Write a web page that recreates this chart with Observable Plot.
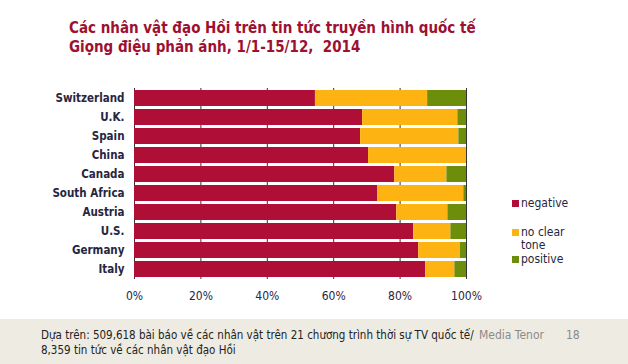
<!DOCTYPE html>
<html><head><meta charset="utf-8">
<script src="https://cdn.jsdelivr.net/npm/d3@7"></script>
<script src="https://cdn.jsdelivr.net/npm/@observablehq/plot@0.6"></script>
<style>
body{margin:0;background:#fff;}
#wrap{position:relative;width:628px;height:364px;overflow:hidden;background:#fff;}
#title{position:absolute;left:69px;top:19px;font-family:"DejaVu Sans Condensed","DejaVu Sans",sans-serif;font-weight:bold;font-size:15px;line-height:19px;color:#9E1030;white-space:nowrap;}
#chart{position:absolute;left:0;top:0;}
#legend{position:absolute;left:512px;top:197px;font-family:"DejaVu Sans Condensed","DejaVu Sans",sans-serif;font-size:12px;color:#26263F;}
.li{position:absolute;left:0;white-space:nowrap;line-height:13px;}
.sw{position:absolute;left:0;width:7px;height:7px;}
.lt{position:absolute;left:9px;}
#footer{position:absolute;left:0;top:319px;width:628px;height:45px;background:#EEECE2;}
#ftext{position:absolute;left:41px;top:9px;font-family:"DejaVu Sans Condensed",sans-serif;font-size:11.5px;line-height:15px;color:#222;white-space:nowrap;}
#brand{position:absolute;left:479px;top:9px;font-family:"DejaVu Sans Condensed",sans-serif;font-size:12px;line-height:15px;color:#8A8A8A;white-space:nowrap;}
#page{position:absolute;left:566px;top:9px;font-family:"DejaVu Sans Condensed",sans-serif;font-size:12px;line-height:15px;color:#8A8A8A;}
</style></head>
<body>
<div id="wrap">
  <div id="chart"></div>
  <div id="title">Các nhân vật đạo Hồi trên tin tức truyền hình quốc tế<br>Giọng điệu phản ánh, 1/1-15/12,&nbsp; 2014</div>
  <div id="legend"></div>
  <div id="footer">
    <div id="ftext">Dựa trên: 509,618 bài báo về các nhân vật trên 21 chương trình thời sự TV quốc tế/<br>8,359 tin tức về các nhân vật đạo Hồi</div>
    <div id="brand">Media Tenor</div>
    <div id="page">18</div>
  </div>
</div>
<script>
const countries = ["Switzerland","U.K.","Spain","China","Canada","South Africa","Austria","U.S.","Germany","Italy"];
const negative = [54.5, 68.7, 68.1, 70.5, 78.4, 73.2, 79.0, 84.1, 85.6, 87.7];
const noClear  = [33.8, 28.7, 29.6, 29.5, 15.7, 26.0, 15.4, 11.2, 12.6, 8.8];
const positive = [11.7, 2.6, 2.3, 0.0, 5.9, 0.8, 5.6, 4.7, 1.8, 3.5];
const tones = ["negative","no clear tone","positive"];
const toneLabels = ["negative","no clear<br>tone","positive"];
const colors = ["#AF0E37","#FDB413","#6D8E0B"];
const xTicks = [0, 0.2, 0.4, 0.6, 0.8, 1];

const series = [negative, noClear, positive];
const rows = [];
countries.forEach((c, i) => {
  tones.forEach((t, j) => rows.push({country: c, tone: t, value: series[j][i] / 100}));
});

const plot = Plot.plot({
  width: 628,
  height: 310,
  marginLeft: 134,
  marginRight: 162,
  marginTop: 88,
  marginBottom: 31,
  style: {fontFamily: '"DejaVu Sans Condensed","DejaVu Sans",sans-serif', fontSize: "12px", color: "#26263F", background: "transparent"},
  x: {domain: [0, 1], ticks: xTicks, tickFormat: d3.format(".0%"), tickSize: 0, tickPadding: 12, label: null},
  y: {domain: countries, paddingInner: 0.16, paddingOuter: 0.08, tickSize: 0, tickPadding: 10, label: null},
  color: {domain: tones, range: colors},
  marks: [
    Plot.gridX(xTicks, {stroke: "#333", strokeOpacity: 1, strokeWidth: 1}),
    Plot.barX(rows, Plot.stackX({x: "value", y: "country", fill: "tone", order: tones})),
    Plot.axisY({tickSize: 0, tickPadding: 10, fontWeight: "bold", fontSize: 11.5, label: null}),
    Plot.axisX({ticks: xTicks, tickFormat: d3.format(".0%"), tickSize: 0, tickPadding: 12, label: null})
  ]
});
document.getElementById("chart").appendChild(plot);

const legend = document.getElementById("legend");
const tops = [0, 29, 56];
tones.forEach((t, j) => {
  const d = document.createElement("div");
  d.className = "li";
  d.style.top = tops[j] + "px";
  d.innerHTML = `<div class="sw" style="background:${colors[j]};top:3px"></div><div class="lt">${toneLabels[j]}</div>`;
  legend.appendChild(d);
});
</script>
</body></html>
